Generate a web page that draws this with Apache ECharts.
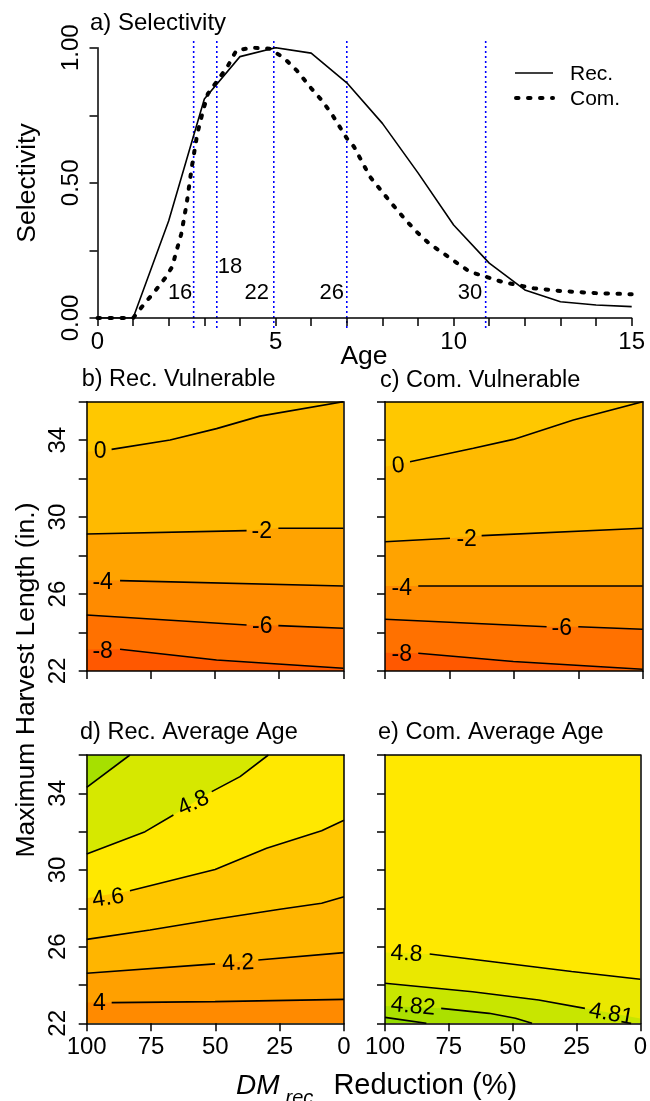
<!DOCTYPE html>
<html><head><meta charset="utf-8">
<script src="https://cdn.jsdelivr.net/npm/echarts@6/dist/echarts.min.js"></script>
<style>html,body{margin:0;padding:0;background:#fff}#c{width:650px;height:1101px}</style>
</head><body><div id="c"></div><script>
const FONT = '"Liberation Sans", Arial, sans-serif';

// ---------- a) Selectivity ----------
const recAges = [0,1,2,3,4,5,6,7,8,9,10,11,12,13,14,15];
const recSel  = [0,0,0.36,0.81,0.967,1.0,0.98,0.87,0.72,0.537,0.344,0.203,0.104,0.06,0.048,0.042];
const comAges = [0,0.5,1,1.3,1.6,1.9,2.1,2.2,2.35,2.5,2.65,2.8,2.95,3.1,3.35,3.65,3.9,4.35,4.85,5.25,5.6,6,6.3,6.6,7,7.2,7.65,8.25,8.65,9,9.3,9.7,10.1,10.45,10.9,11.35,11.8,12.25,13,14,15];
const comSel  = [0,0,0,0.05,0.097,0.148,0.19,0.24,0.31,0.42,0.56,0.68,0.76,0.83,0.875,0.93,0.99,1.0,0.996,0.96,0.915,0.85,0.805,0.75,0.665,0.634,0.523,0.425,0.363,0.314,0.277,0.24,0.203,0.171,0.153,0.134,0.122,0.11,0.1,0.092,0.088];
const seriesNames  = ['Rec.','Com.'];
const lengthAges   = [2.7,3.35,4.95,7.0,10.9];          // ages at 16,18,22,26,30 in.
const lengthText   = ['16','18','22','26','30'];
const lengthLabelX = [2.32,3.72,4.47,6.58,10.46];
const lengthLabelY = [0.093,0.19,0.093,0.094,0.094];
const topXTickText = [0,5,10,15];
const topYTickVals = [0,0.5,1];
const topYTickText = ['0.00','0.50','1.00'];

// ---------- contour panels ----------
const xTicksLower = [100,75,50,25,0];
const yTickLabelsLower = [22,26,30,34];

// b) Rec. Vulnerable
const bLevels = [0,-2,-4,-6,-8];
const bLine0  = [[100,33.4],null,[90.3,33.52],[67.5,34.01],[49.4,34.6],[32.5,35.25],[0,36]];
const bLineM2 = [[100,29.12],[37.7,29.3],null,[25.3,29.42],[0,29.42]];
const bLineM4 = [[100,26.72],null,[87,26.7],[0,26.42]];
const bLineM6 = [[100,24.91],[37.7,24.39],null,[25.3,24.36],[0,24.22]];
const bLineM8 = [[100,23.12],null,[87,23.13],[49.4,22.57],[0,22.14]];
const bLabelText = ['0','-2','-4','-6','-8'];
const bLabelX = [94.8,31.8,93.8,31.6,93.8];
const bLabelY = [33.4,29.24,26.59,24.3,23.0];
const bLabelRot = [0,0,0,0,0];

// c) Com. Vulnerable
const cLevels = [0,-2,-4,-6,-8];
const cLine0  = [[100,32.62],null,[90.3,32.88],[65.7,33.58],[50.2,34.04],[26.9,35.05],[0,36]];
const cLineM2 = [[100,28.72],[74.8,28.9],null,[62.5,29.04],[0,29.42]];
const cLineM4 = [[100,26.42],null,[87.1,26.42],[0,26.42]];
const cLineM6 = [[100,24.69],[37.3,24.3],null,[25,24.3],[0,24.17]];
const cLineM8 = [[100,22.95],null,[87.1,22.92],[50.2,22.49],[0,22.09]];
const cLabelText = ['0','-2','-4','-6','-8'];
const cLabelX = [94.8,68.3,93.5,31.4,93.5];
const cLabelY = [32.66,28.81,26.3,24.22,22.83];
const cLabelRot = [5,0,0,0,0];

// d) Rec. Average Age
const dLevels = [4.8,5.0,4.6,4.4,4.2,4.0];
const dLine48 = [[100,30.83],[77.3,32.0],[66.3,32.87],null,[51.4,34.09],[40.4,34.87],[29.4,36]];
const dLine50 = [[100,34.31],[83.2,36]];
const dLine46 = [[100,28.52],null,[83.2,28.92],[50.1,30.03],[30.1,31.13],[8.7,32.05],[0,32.6]];
const dLine44 = [[100,26.38],[75.4,26.87],[50.1,27.43],[24.9,27.95],[8.7,28.26],[0,28.6]];
const dLine42 = [[100,24.61],[50.1,25.1],null,[33.3,25.3],[0,25.69]];
const dLine40 = [[100,23.08],null,[90.3,23.08],[50.1,23.13],[0,23.25]];
const dLabelText = ['4.8','4.6','4.2','4'];
const dLabelX = [58.5,91.6,41.1,95.1];
const dLabelY = [33.48,28.52,25.13,23.04];
const dLabelRot = [25,8,3,0];

// e) Com. Average Age
const eLevels = [4.8,4.81,4.82,4.83];
const eLine480 = [[100,25.69],null,[82.5,25.62],[55.4,25.17],[26.9,24.7],[0,24.3]];
const eLine481 = [[100,24.09],[65.7,23.65],[39.8,23.22],[21.7,22.78],null,[0,22.25]];
const eLine482 = [[100,22.9],null,[78,22.78],[59.2,22.52],[48.9,22.26],[42.4,22.0]];
const eLine483 = [[100,22.31],[83.8,22.0]];
const eLabelText = ['4.8','4.82','4.81'];
const eLabelX = [91.6,89,11.4];
const eLabelY = [25.62,22.87,22.47];
const eLabelRot = [-3,-5,-10];

// ---------- styles ----------
const bColors = {bg:'#FFC800', fills:['#FFBA00','#FFA300','#FF8B00','#FF7100','#FF5800'], origins:['start','start','start','start','start']};
const dColors = {bg:'#FFE800', fills:['#D6E800','#A6E000','#FFC700','#FFB500','#FFA000','#FF8A00'], origins:['end','end','start','start','start','start']};
const eColors = {bg:'#FFE800', fills:['#EAE800','#C8E600','#ABE000','#94DC00'], origins:['start','start','start','start']};
const vlineSpan = [-0.037, 1.025];
const comDash = [2.5, 9.5];

const panels = [
  {title:'b) Rec. Vulnerable', grid:{left:86.7, top:401.7, width:256.6, height:269.3}, xLab:false, yLab:true,
   lines:[bLine0,bLineM2,bLineM4,bLineM6,bLineM8], col:bColors, lt:bLabelText, lx:bLabelX, ly:bLabelY, lr:bLabelRot, tpos:[81.7,380]},
  {title:'c) Com. Vulnerable', grid:{left:385, top:401.7, width:257.7, height:269.3}, xLab:false, yLab:false,
   lines:[cLine0,cLineM2,cLineM4,cLineM6,cLineM8], col:bColors, lt:cLabelText, lx:cLabelX, ly:cLabelY, lr:cLabelRot, tpos:[380,380.7]},
  {title:'d) Rec. Average Age', grid:{left:86.7, top:755, width:257.3, height:268.3}, xLab:true, yLab:true,
   lines:[dLine48,dLine50,dLine46,dLine44,dLine42,dLine40], col:dColors, lt:dLabelText, lx:dLabelX, ly:dLabelY, lr:dLabelRot, tpos:[80,733]},
  {title:'e) Com. Average Age', grid:{left:385, top:755, width:257.7, height:268.3}, xLab:true, yLab:false,
   lines:[eLine480,eLine481,eLine482,eLine483], col:eColors, lt:eLabelText, lx:eLabelX, ly:eLabelY, lr:eLabelRot, tpos:[378,733]}
];

const grids = [{left:97.5, top:47.7, width:534.2, height:270.3, show:false}];
const xAxes = [{gridIndex:0, type:'value', min:0, max:15, interval:1, z:10,
  axisLine:{show:true, onZero:false, lineStyle:{color:'#000', width:1.5}},
  axisTick:{show:true, length:8, lineStyle:{color:'#000', width:1.5}},
  splitLine:{show:false},
  axisLabel:{show:true, margin:12, fontSize:24, fontFamily:FONT, color:'#000', showMinLabel:true, showMaxLabel:true,
    formatter:v=> topXTickText.includes(v) ? String(v) : ''}}];
const yAxes = [{gridIndex:0, type:'value', min:0, max:1, interval:0.25, z:10,
  axisLine:{show:true, onZero:false, lineStyle:{color:'#000', width:1.5}},
  axisTick:{show:true, length:8, lineStyle:{color:'#000', width:1.5}},
  splitLine:{show:false},
  axisLabel:{show:true, rotate:90, margin:14, fontSize:24, fontFamily:FONT, color:'#000',
    formatter:v=>{const i=topYTickVals.indexOf(v); return i>=0?topYTickText[i]:'';}}}];

const labelSeries = (xi, yi, pts, size) => ({type:'scatter', xAxisIndex:xi, yAxisIndex:yi, symbol:'circle', symbolSize:0,
  itemStyle:{color:'#000', opacity:1}, silent:true, z:7, data:pts,
  label:{show:true, position:'inside', fontSize:size, fontFamily:FONT, color:'#000', opacity:1}});

const series = [];
series.push({type:'line', name:seriesNames[0], xAxisIndex:0, yAxisIndex:0, data:recAges.map((a,i)=>[a,recSel[i]]),
  symbol:'none', lineStyle:{color:'#000', width:1.6}, itemStyle:{color:'#000'}, z:6, silent:true});
series.push({type:'line', name:seriesNames[1], xAxisIndex:0, yAxisIndex:0, data:comAges.map((a,i)=>[a,comSel[i]]),
  symbol:'none', lineStyle:{color:'#000', width:4, type:comDash, cap:'round'}, itemStyle:{color:'#000'}, z:5, silent:true});
lengthAges.forEach(a=>{
  series.push({type:'line', xAxisIndex:0, yAxisIndex:0, clip:false, data:[[a,vlineSpan[0]],[a,vlineSpan[1]]], symbol:'none',
    lineStyle:{color:'#0000FF', width:1.6, type:[2,3]}, z:4, silent:true});
});
series.push(labelSeries(0,0, lengthLabelX.map((x,i)=>({value:[x,lengthLabelY[i]], label:{formatter:lengthText[i]}})), 22));

panels.forEach((p,k)=>{
  const gi = k+1;
  grids.push(Object.assign({show:true, borderWidth:0, backgroundColor:p.col.bg}, p.grid));
  const xb = xAxes.length;
  xAxes.push({gridIndex:gi, type:'value', min:0, max:100, interval:25, inverse:true, position:'bottom', z:10,
    axisLine:{show:true, onZero:false, lineStyle:{color:'#000', width:1.5}},
    axisTick:{show:true, length:8, lineStyle:{color:'#000', width:1.5}},
    splitLine:{show:false},
    axisLabel:{show:p.xLab, margin:12, fontSize:24, fontFamily:FONT, color:'#000', showMinLabel:true, showMaxLabel:true,
      formatter:v=> xTicksLower.includes(v) ? String(v) : ''}});
  xAxes.push({gridIndex:gi, type:'value', min:0, max:100, inverse:true, position:'top', z:10,
    axisLine:{show:true, onZero:false, lineStyle:{color:'#000', width:1.5}}, axisTick:{show:false}, axisLabel:{show:false}, splitLine:{show:false}});
  const yb = yAxes.length;
  yAxes.push({gridIndex:gi, type:'value', min:22, max:36, interval:2, position:'left', z:10,
    axisLine:{show:true, onZero:false, lineStyle:{color:'#000', width:1.5}},
    axisTick:{show:true, length:8, lineStyle:{color:'#000', width:1.5}},
    splitLine:{show:false},
    axisLabel:{show:p.yLab, rotate:90, margin:16, fontSize:24, fontFamily:FONT, color:'#000', showMinLabel:true, showMaxLabel:true,
      formatter:v=> yTickLabelsLower.includes(v) ? String(v) : ''}});
  yAxes.push({gridIndex:gi, type:'value', min:22, max:36, position:'right', z:10,
    axisLine:{show:true, onZero:false, lineStyle:{color:'#000', width:1.5}}, axisTick:{show:false}, axisLabel:{show:false}, splitLine:{show:false}});
  // filled bands
  p.lines.forEach((ln,j)=>{
    series.push({type:'line', xAxisIndex:xb, yAxisIndex:yb, data:ln.filter(q=>q), symbol:'none', silent:true, z:1,
      lineStyle:{width:0, opacity:0}, areaStyle:{color:p.col.fills[j], opacity:1, origin:p.col.origins[j]}});
  });
  // contour lines split at label gaps
  p.lines.forEach(ln=>{
    let seg=[];
    const flush=()=>{ if(seg.length>1){ series.push({type:'line', xAxisIndex:xb, yAxisIndex:yb, data:seg, symbol:'none', silent:true, z:3,
      lineStyle:{color:'#000', width:1.6}}); } seg=[]; };
    ln.forEach(q=>{ if(q===null) flush(); else seg.push(q); });
    flush();
  });
  series.push(labelSeries(xb, yb, p.lx.map((x,i)=>({value:[x,p.ly[i]], label:{formatter:p.lt[i], rotate:p.lr[i]}})), 23));
});

const txt = (t,x,y,size,opts={})=>({type:'text', x, y, rotation:opts.rot||0, z:20,
  style:{text:t, x:0, y:0, fill:'#000', font:`${opts.style||'normal'} ${size}px ${FONT}`, textAlign:opts.align||'left', textVerticalAlign:'middle'}});

const graphic = [
  txt('a) Selectivity', 90, 23, 24),
  txt('Selectivity', 28, 183, 26.5, {rot:Math.PI/2, align:'center'}),
  txt('Age', 364, 357, 26.5, {align:'center'}),
  txt('Maximum Harvest Length (in.)', 27, 680, 26.5, {rot:Math.PI/2, align:'center'}),
  // legend
  {type:'line', z:20, shape:{x1:515, y1:73, x2:553, y2:73}, style:{stroke:'#000', lineWidth:1.6}},
  {type:'line', z:20, shape:{x1:516, y1:98, x2:553, y2:98}, style:{stroke:'#000', lineWidth:4, lineDash:comDash, lineCap:'round'}},
  txt(seriesNames[0], 570, 74, 21),
  txt(seriesNames[1], 570, 99, 21),
  {type:'text', x:236, y:1086, z:20, style:{
    text:'{d|DM}{s|rec}{n| Reduction (%)}', x:0, y:0, textAlign:'left', textVerticalAlign:'middle',
    rich:{
      d:{fontSize:28, fontStyle:'italic', fontFamily:FONT, fill:'#000', color:'#000', lineHeight:44, verticalAlign:'middle', padding:[0,5,0,0]},
      s:{fontSize:20, fontStyle:'italic', fontFamily:FONT, fill:'#000', color:'#000', lineHeight:44, verticalAlign:'bottom', padding:[0,12,0,1]},
      n:{fontSize:29, fontFamily:FONT, fill:'#000', color:'#000', lineHeight:44, verticalAlign:'middle'}
    }}}
];
panels.forEach(p=>graphic.push(txt(p.title, p.tpos[0], p.tpos[1], 23.5)));

const chart = echarts.init(document.getElementById('c'), null, {renderer:'canvas'});
chart.setOption({
  animation:false,
  backgroundColor:'#fff',
  textStyle:{fontFamily:FONT},
  grid:grids, xAxis:xAxes, yAxis:yAxes, series,
  graphic
});
</script></body></html>
